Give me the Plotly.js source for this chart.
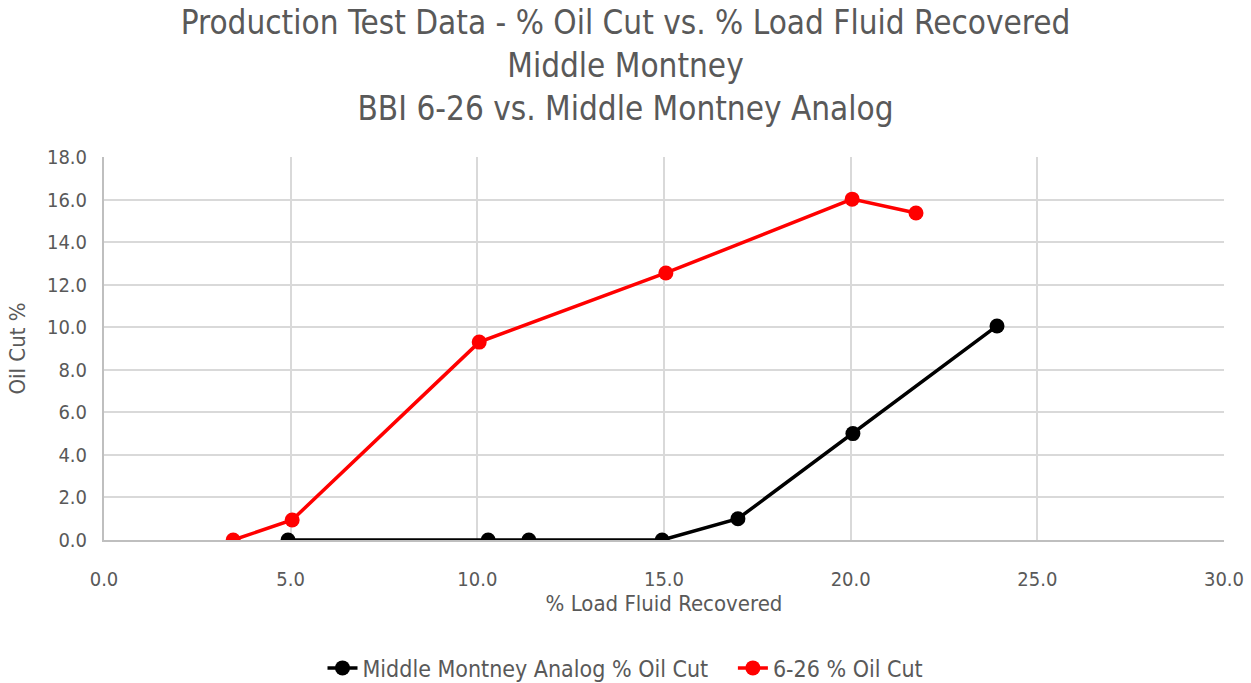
<!DOCTYPE html>
<html><head><meta charset="utf-8">
<script src="https://cdn.plot.ly/plotly-3.0.1.min.js"></script>
<style>html,body{margin:0;padding:0;background:#fff}#chart{width:1251px;height:683px}</style>
</head><body><div id="chart"></div>
<script>
const analogX = [4.93, 10.29, 11.38, 14.95, 16.98, 20.06, 23.92];
const analogY = [0, 0, 0, 0, 1.0, 5.0, 10.06];
const well626X = [3.46, 5.04, 10.05, 15.05, 20.04, 21.75];
const well626Y = [0, 0.94, 9.3, 12.55, 16.02, 15.37];
const xTicks = [0, 5, 10, 15, 20, 25, 30];
const yTicks = [0, 2, 4, 6, 8, 10, 12, 14, 16, 18];

const FONT = '"DejaVu Sans Condensed", "Liberation Sans Narrow", sans-serif';
const GRAY = '#595959';

const traces = [
  {x: analogX, y: analogY, name: 'Middle Montney Analog % Oil Cut   ', mode: 'lines+markers',
   line: {color: '#000000', width: 3.5}, marker: {color: '#000000', size: 15}},
  {x: well626X, y: well626Y, name: '6-26 % Oil Cut', mode: 'lines+markers',
   line: {color: '#ff0000', width: 3.5}, marker: {color: '#ff0000', size: 15}}
];

const layout = {
  width: 1251, height: 683,
  margin: {l: 104, r: 27, t: 157, b: 143, autoexpand: false},
  paper_bgcolor: '#fff', plot_bgcolor: '#fff',
  font: {family: FONT, color: GRAY, size: 18},
  title: {text: 'Production Test Data - % Oil Cut vs. % Load Fluid Recovered<br>Middle Montney<br>BBI 6-26 vs. Middle Montney Analog',
          font: {family: FONT, size: 33, color: GRAY}, x: 0.5, xanchor: 'center',
          yref: 'container', y: 0.95, yanchor: 'top'},
  xaxis: {range: [0, 30], tickvals: xTicks, ticktext: xTicks.map(v => v.toFixed(1)),
          showgrid: true, gridcolor: '#d9d9d9', gridwidth: 2, zeroline: false,
          showline: true, linecolor: '#bfbfbf', linewidth: 2, ticks: '',
          ticklabelstandoff: 20,
          tickfont: {size: 20, color: GRAY},
          title: {text: '% Load Fluid Recovered', font: {size: 22, color: GRAY}, standoff: 4}},
  yaxis: {range: [0, 18], tickvals: yTicks, ticktext: yTicks.map(v => v.toFixed(1)),
          showgrid: true, gridcolor: '#d9d9d9', gridwidth: 2, zeroline: false,
          showline: true, linecolor: '#bfbfbf', linewidth: 2, ticks: '',
          ticklabelstandoff: 11,
          tickfont: {size: 20, color: GRAY},
          title: {text: 'Oil Cut %', font: {size: 22, color: GRAY}, standoff: 15}},
  showlegend: true,
  legend: {orientation: 'h', x: 0.5, xref: 'container', xanchor: 'center',
           y: 0.022, yref: 'container', yanchor: 'middle',
           font: {size: 23, color: GRAY}}
};

Plotly.newPlot('chart', traces, layout, {displayModeBar: false, staticPlot: true});
</script></body></html>
